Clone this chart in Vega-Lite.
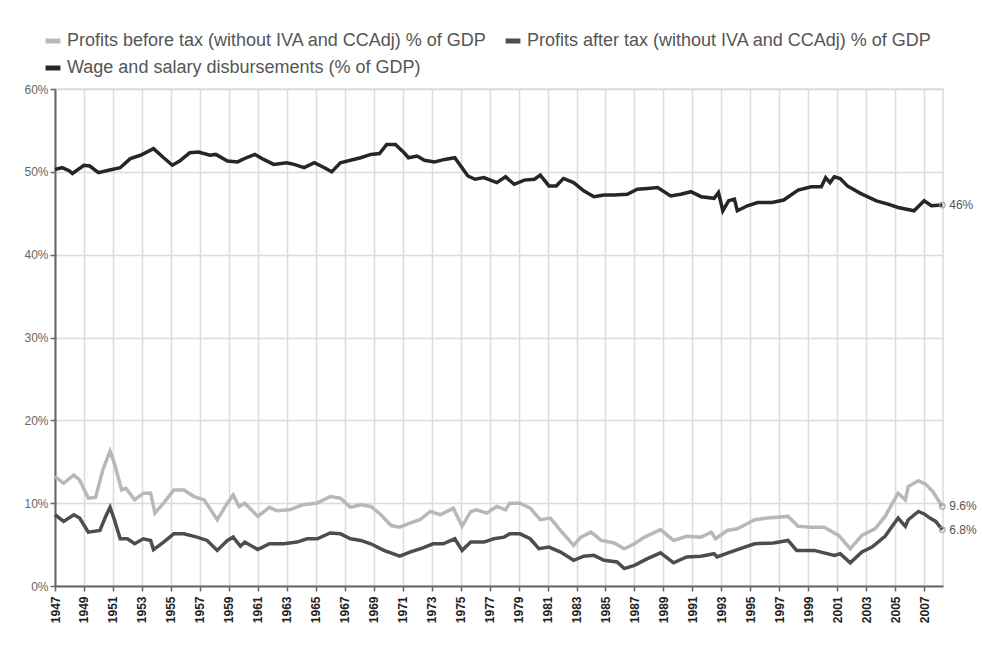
{
  "$schema": "https://vega.github.io/schema/vega-lite/v6.json",
  "autosize": {"type": "none"},
  "width": 888,
  "height": 497,
  "padding": {"left": 55, "top": 89, "right": 39, "bottom": 63},
  "background": "white",
  "datasets": {
    "series": [
      {"s":"wages","t":1947.0,"v":50.3},{"s":"wages","t":1947.5,"v":50.5},{"s":"wages","t":1948.0,"v":50.1},{"s":"wages","t":1948.2,"v":49.8},{"s":"wages","t":1949.0,"v":50.8},{"s":"wages","t":1949.4,"v":50.7},{"s":"wages","t":1950.0,"v":49.9},{"s":"wages","t":1950.7,"v":50.2},{"s":"wages","t":1951.5,"v":50.5},{"s":"wages","t":1952.2,"v":51.6},{"s":"wages","t":1952.9,"v":52.0},{"s":"wages","t":1953.8,"v":52.8},{"s":"wages","t":1954.5,"v":51.7},{"s":"wages","t":1955.1,"v":50.8},{"s":"wages","t":1955.6,"v":51.3},{"s":"wages","t":1956.3,"v":52.3},{"s":"wages","t":1956.9,"v":52.4},{"s":"wages","t":1957.7,"v":52.0},{"s":"wages","t":1958.1,"v":52.1},{"s":"wages","t":1958.9,"v":51.3},{"s":"wages","t":1959.6,"v":51.2},{"s":"wages","t":1960.2,"v":51.7},{"s":"wages","t":1960.8,"v":52.1},{"s":"wages","t":1961.4,"v":51.5},{"s":"wages","t":1962.1,"v":50.9},{"s":"wages","t":1963.0,"v":51.1},{"s":"wages","t":1963.5,"v":50.9},{"s":"wages","t":1964.2,"v":50.5},{"s":"wages","t":1964.9,"v":51.1},{"s":"wages","t":1965.6,"v":50.5},{"s":"wages","t":1966.1,"v":50.0},{"s":"wages","t":1966.7,"v":51.1},{"s":"wages","t":1967.4,"v":51.4},{"s":"wages","t":1968.1,"v":51.7},{"s":"wages","t":1968.8,"v":52.1},{"s":"wages","t":1969.4,"v":52.2},{"s":"wages","t":1969.9,"v":53.3},{"s":"wages","t":1970.5,"v":53.3},{"s":"wages","t":1971.1,"v":52.3},{"s":"wages","t":1971.4,"v":51.7},{"s":"wages","t":1972.0,"v":51.9},{"s":"wages","t":1972.5,"v":51.4},{"s":"wages","t":1973.2,"v":51.2},{"s":"wages","t":1973.9,"v":51.5},{"s":"wages","t":1974.6,"v":51.7},{"s":"wages","t":1975.5,"v":49.5},{"s":"wages","t":1976.0,"v":49.1},{"s":"wages","t":1976.6,"v":49.3},{"s":"wages","t":1977.5,"v":48.7},{"s":"wages","t":1978.1,"v":49.4},{"s":"wages","t":1978.7,"v":48.5},{"s":"wages","t":1979.4,"v":49.0},{"s":"wages","t":1980.1,"v":49.1},{"s":"wages","t":1980.5,"v":49.6},{"s":"wages","t":1981.1,"v":48.3},{"s":"wages","t":1981.6,"v":48.3},{"s":"wages","t":1982.1,"v":49.2},{"s":"wages","t":1982.8,"v":48.7},{"s":"wages","t":1983.5,"v":47.7},{"s":"wages","t":1984.2,"v":47.0},{"s":"wages","t":1984.9,"v":47.2},{"s":"wages","t":1985.6,"v":47.2},{"s":"wages","t":1986.5,"v":47.3},{"s":"wages","t":1987.2,"v":47.9},{"s":"wages","t":1987.9,"v":48.0},{"s":"wages","t":1988.6,"v":48.1},{"s":"wages","t":1989.5,"v":47.1},{"s":"wages","t":1990.2,"v":47.3},{"s":"wages","t":1990.9,"v":47.6},{"s":"wages","t":1991.6,"v":47.0},{"s":"wages","t":1992.5,"v":46.8},{"s":"wages","t":1992.8,"v":47.5},{"s":"wages","t":1993.1,"v":45.3},{"s":"wages","t":1993.5,"v":46.5},{"s":"wages","t":1993.9,"v":46.7},{"s":"wages","t":1994.1,"v":45.3},{"s":"wages","t":1994.8,"v":45.9},{"s":"wages","t":1995.5,"v":46.3},{"s":"wages","t":1996.5,"v":46.3},{"s":"wages","t":1997.3,"v":46.6},{"s":"wages","t":1998.3,"v":47.8},{"s":"wages","t":1999.2,"v":48.2},{"s":"wages","t":1999.9,"v":48.2},{"s":"wages","t":2000.2,"v":49.3},{"s":"wages","t":2000.5,"v":48.7},{"s":"wages","t":2000.8,"v":49.4},{"s":"wages","t":2001.2,"v":49.2},{"s":"wages","t":2001.7,"v":48.3},{"s":"wages","t":2002.6,"v":47.4},{"s":"wages","t":2003.7,"v":46.5},{"s":"wages","t":2004.5,"v":46.1},{"s":"wages","t":2005.2,"v":45.7},{"s":"wages","t":2006.3,"v":45.3},{"s":"wages","t":2007.0,"v":46.5},{"s":"wages","t":2007.5,"v":45.9},{"s":"wages","t":2008.25,"v":46.0},
      {"s":"before","t":1947.0,"v":13.2},{"s":"before","t":1947.6,"v":12.4},{"s":"before","t":1948.3,"v":13.4},{"s":"before","t":1948.7,"v":12.8},{"s":"before","t":1949.3,"v":10.6},{"s":"before","t":1949.8,"v":10.7},{"s":"before","t":1950.3,"v":14.0},{"s":"before","t":1950.8,"v":16.3},{"s":"before","t":1951.1,"v":14.8},{"s":"before","t":1951.6,"v":11.6},{"s":"before","t":1951.9,"v":11.8},{"s":"before","t":1952.5,"v":10.4},{"s":"before","t":1953.1,"v":11.2},{"s":"before","t":1953.6,"v":11.2},{"s":"before","t":1953.9,"v":8.8},{"s":"before","t":1954.5,"v":10.0},{"s":"before","t":1955.2,"v":11.6},{"s":"before","t":1955.9,"v":11.6},{"s":"before","t":1956.6,"v":10.8},{"s":"before","t":1957.3,"v":10.4},{"s":"before","t":1958.2,"v":8.0},{"s":"before","t":1958.9,"v":10.0},{"s":"before","t":1959.3,"v":11.0},{"s":"before","t":1959.7,"v":9.6},{"s":"before","t":1960.1,"v":10.0},{"s":"before","t":1961.0,"v":8.4},{"s":"before","t":1961.8,"v":9.5},{"s":"before","t":1962.3,"v":9.1},{"s":"before","t":1963.2,"v":9.2},{"s":"before","t":1964.1,"v":9.8},{"s":"before","t":1965.1,"v":10.0},{"s":"before","t":1966.0,"v":10.8},{"s":"before","t":1966.7,"v":10.6},{"s":"before","t":1967.4,"v":9.5},{"s":"before","t":1968.1,"v":9.8},{"s":"before","t":1968.8,"v":9.6},{"s":"before","t":1969.5,"v":8.6},{"s":"before","t":1970.2,"v":7.3},{"s":"before","t":1970.8,"v":7.1},{"s":"before","t":1971.5,"v":7.6},{"s":"before","t":1972.2,"v":8.0},{"s":"before","t":1972.9,"v":9.0},{"s":"before","t":1973.6,"v":8.6},{"s":"before","t":1974.5,"v":9.4},{"s":"before","t":1975.1,"v":7.2},{"s":"before","t":1975.7,"v":9.0},{"s":"before","t":1976.1,"v":9.2},{"s":"before","t":1976.8,"v":8.8},{"s":"before","t":1977.5,"v":9.6},{"s":"before","t":1978.1,"v":9.2},{"s":"before","t":1978.4,"v":10.0},{"s":"before","t":1979.1,"v":10.0},{"s":"before","t":1979.8,"v":9.4},{"s":"before","t":1980.5,"v":8.0},{"s":"before","t":1981.2,"v":8.2},{"s":"before","t":1981.9,"v":6.7},{"s":"before","t":1982.8,"v":4.9},{"s":"before","t":1983.3,"v":5.9},{"s":"before","t":1984.0,"v":6.5},{"s":"before","t":1984.7,"v":5.5},{"s":"before","t":1985.6,"v":5.2},{"s":"before","t":1986.3,"v":4.5},{"s":"before","t":1987.0,"v":5.1},{"s":"before","t":1987.7,"v":5.9},{"s":"before","t":1988.8,"v":6.8},{"s":"before","t":1989.7,"v":5.5},{"s":"before","t":1990.6,"v":6.0},{"s":"before","t":1991.6,"v":5.9},{"s":"before","t":1992.3,"v":6.5},{"s":"before","t":1992.6,"v":5.7},{"s":"before","t":1993.4,"v":6.7},{"s":"before","t":1994.1,"v":6.9},{"s":"before","t":1995.3,"v":8.0},{"s":"before","t":1996.2,"v":8.2},{"s":"before","t":1997.6,"v":8.4},{"s":"before","t":1998.3,"v":7.2},{"s":"before","t":1999.2,"v":7.1},{"s":"before","t":2000.1,"v":7.1},{"s":"before","t":2001.1,"v":6.1},{"s":"before","t":2001.9,"v":4.5},{"s":"before","t":2002.7,"v":6.1},{"s":"before","t":2003.6,"v":6.9},{"s":"before","t":2004.3,"v":8.4},{"s":"before","t":2005.2,"v":11.2},{"s":"before","t":2005.7,"v":10.4},{"s":"before","t":2005.9,"v":12.0},{"s":"before","t":2006.6,"v":12.7},{"s":"before","t":2007.1,"v":12.3},{"s":"before","t":2007.6,"v":11.4},{"s":"before","t":2008.25,"v":9.6},
      {"s":"after","t":1947.0,"v":8.6},{"s":"after","t":1947.6,"v":7.8},{"s":"after","t":1948.3,"v":8.6},{"s":"after","t":1948.7,"v":8.2},{"s":"after","t":1949.3,"v":6.5},{"s":"after","t":1950.1,"v":6.7},{"s":"after","t":1950.5,"v":8.4},{"s":"after","t":1950.8,"v":9.5},{"s":"after","t":1951.1,"v":8.0},{"s":"after","t":1951.5,"v":5.7},{"s":"after","t":1952.0,"v":5.7},{"s":"after","t":1952.5,"v":5.1},{"s":"after","t":1953.1,"v":5.7},{"s":"after","t":1953.6,"v":5.5},{"s":"after","t":1953.8,"v":4.4},{"s":"after","t":1954.5,"v":5.3},{"s":"after","t":1955.2,"v":6.3},{"s":"after","t":1955.9,"v":6.3},{"s":"after","t":1956.8,"v":5.9},{"s":"after","t":1957.5,"v":5.5},{"s":"after","t":1958.2,"v":4.3},{"s":"after","t":1958.9,"v":5.5},{"s":"after","t":1959.3,"v":5.9},{"s":"after","t":1959.8,"v":4.8},{"s":"after","t":1960.1,"v":5.3},{"s":"after","t":1961.0,"v":4.4},{"s":"after","t":1961.8,"v":5.1},{"s":"after","t":1962.8,"v":5.1},{"s":"after","t":1963.7,"v":5.3},{"s":"after","t":1964.4,"v":5.7},{"s":"after","t":1965.1,"v":5.7},{"s":"after","t":1966.0,"v":6.4},{"s":"after","t":1966.7,"v":6.3},{"s":"after","t":1967.4,"v":5.7},{"s":"after","t":1968.1,"v":5.5},{"s":"after","t":1968.8,"v":5.1},{"s":"after","t":1969.7,"v":4.3},{"s":"after","t":1970.8,"v":3.6},{"s":"after","t":1971.5,"v":4.1},{"s":"after","t":1972.4,"v":4.6},{"s":"after","t":1973.1,"v":5.1},{"s":"after","t":1973.8,"v":5.1},{"s":"after","t":1974.6,"v":5.7},{"s":"after","t":1975.1,"v":4.3},{"s":"after","t":1975.7,"v":5.3},{"s":"after","t":1976.6,"v":5.3},{"s":"after","t":1977.3,"v":5.7},{"s":"after","t":1978.0,"v":5.9},{"s":"after","t":1978.4,"v":6.3},{"s":"after","t":1979.1,"v":6.3},{"s":"after","t":1979.8,"v":5.7},{"s":"after","t":1980.4,"v":4.5},{"s":"after","t":1981.1,"v":4.7},{"s":"after","t":1981.9,"v":4.1},{"s":"after","t":1982.8,"v":3.1},{"s":"after","t":1983.5,"v":3.6},{"s":"after","t":1984.2,"v":3.7},{"s":"after","t":1984.9,"v":3.1},{"s":"after","t":1985.8,"v":2.9},{"s":"after","t":1986.3,"v":2.1},{"s":"after","t":1987.0,"v":2.5},{"s":"after","t":1987.9,"v":3.3},{"s":"after","t":1988.8,"v":4.0},{"s":"after","t":1989.7,"v":2.8},{"s":"after","t":1990.6,"v":3.5},{"s":"after","t":1991.6,"v":3.6},{"s":"after","t":1992.5,"v":3.9},{"s":"after","t":1992.7,"v":3.5},{"s":"after","t":1994.1,"v":4.4},{"s":"after","t":1995.3,"v":5.1},{"s":"after","t":1996.6,"v":5.2},{"s":"after","t":1997.6,"v":5.5},{"s":"after","t":1998.2,"v":4.3},{"s":"after","t":1999.4,"v":4.3},{"s":"after","t":2000.8,"v":3.7},{"s":"after","t":2001.2,"v":3.9},{"s":"after","t":2001.9,"v":2.8},{"s":"after","t":2002.7,"v":4.1},{"s":"after","t":2003.4,"v":4.7},{"s":"after","t":2004.3,"v":6.0},{"s":"after","t":2005.2,"v":8.2},{"s":"after","t":2005.7,"v":7.2},{"s":"after","t":2005.9,"v":8.0},{"s":"after","t":2006.6,"v":9.0},{"s":"after","t":2007.0,"v":8.7},{"s":"after","t":2007.4,"v":8.2},{"s":"after","t":2007.8,"v":7.8},{"s":"after","t":2008.25,"v":6.8}
    ],
    "ends": [
      {"s":"wages","t":2008.25,"v":46.0,"label":"46%"},
      {"s":"before","t":2008.25,"v":9.6,"label":"9.6%"},
      {"s":"after","t":2008.25,"v":6.8,"label":"6.8%"}
    ]
  },
  "encoding": {
    "x": {
      "field": "t", "type": "quantitative",
      "scale": {"domain": [1947, 2008.3], "nice": false, "zero": false},
      "axis": {
        "title": null,
        "values": [1947,1949,1951,1953,1955,1957,1959,1961,1963,1965,1967,1969,1971,1973,1975,1977,1979,1981,1983,1985,1987,1989,1991,1993,1995,1997,1999,2001,2003,2005,2007],
        "format": "d", "labelAngle": -90, "labelFontSize": 12, "labelColor": "#222",
        "labelFontWeight": "bold", "labelPadding": 5, "tickSize": 5
      }
    },
    "y": {
      "field": "v", "type": "quantitative",
      "scale": {"domain": [0, 60], "nice": false},
      "axis": {
        "title": null, "values": [0,10,20,30,40,50,60],
        "labelExpr": "datum.value + '%'", "labelFontSize": 12, "labelColor": "#666",
        "tickSize": 5, "labelPadding": 2
      }
    }
  },
  "layer": [
    {
      "data": {"name": "series"},
      "mark": {"type": "line", "strokeWidth": 3.5, "interpolate": "linear"},
      "encoding": {
        "color": {
          "field": "s", "type": "nominal",
          "scale": {"domain": ["before","wages","after"], "range": ["#b8b8b8","#262626","#4d4d4d"]},
          "legend": {
            "title": null, "orient": "none", "legendX": -12, "legendY": -58,
            "columns": 2, "symbolType": "stroke", "symbolStrokeWidth": 5, "symbolSize": 220,
            "labelFontSize": 18, "labelColor": "#555", "labelLimit": 700,
            "columnPadding": 8, "rowPadding": 7,
            "labelExpr": "datum.label == 'before' ? 'Profits before tax (without IVA and CCAdj) % of GDP' : datum.label == 'after' ? 'Profits after tax (without IVA and CCAdj) % of GDP' : 'Wage and salary disbursements (% of GDP)'"
          }
        },
        "detail": {"field": "s"}
      }
    },
    {
      "data": {"name": "ends"},
      "mark": {"type": "point", "shape": "circle", "size": 30, "filled": false, "stroke": "#999", "strokeWidth": 1.5}
    },
    {
      "data": {"name": "ends"},
      "mark": {"type": "text", "align": "left", "baseline": "middle", "dx": 7, "fontSize": 12, "fill": "#555", "font": "Liberation Sans"},
      "encoding": {"text": {"field": "label"}}
    }
  ],
  "config": {
    "font": "Liberation Sans",
    "view": {"stroke": "#dcdcdc", "strokeWidth": 1.5},
    "axis": {
      "labelFont": "Liberation Sans",
      "gridColor": "#dcdcdc", "gridWidth": 1.5,
      "domainColor": "#666", "domainWidth": 2,
      "tickColor": "#666", "tickWidth": 1.5
    },
    "legend": {"labelFont": "Liberation Sans"}
  }
}
